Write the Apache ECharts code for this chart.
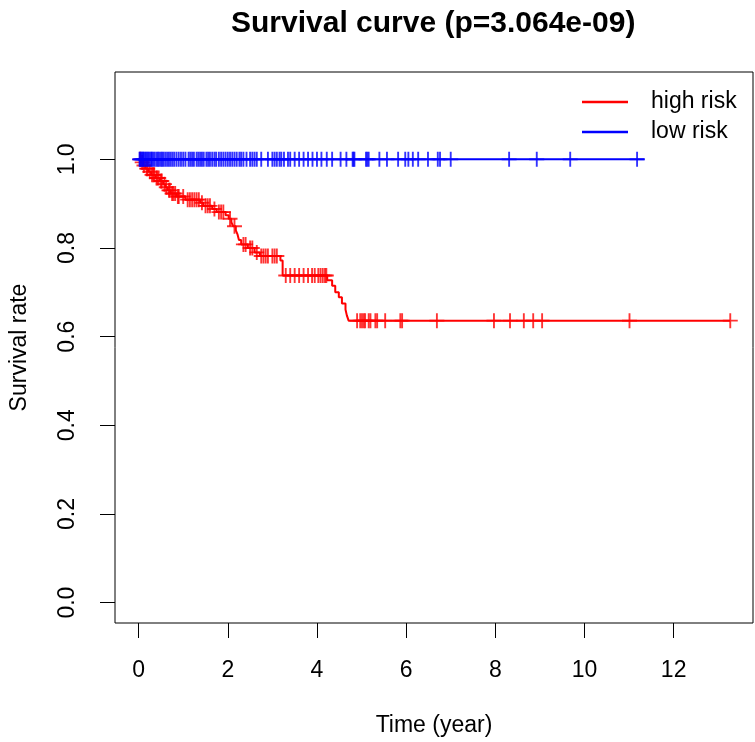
<!DOCTYPE html>
<html>
<head>
<meta charset="utf-8">
<script src="https://cdn.jsdelivr.net/npm/echarts@6/dist/echarts.min.js"></script>
<style>html,body{margin:0;padding:0;background:#fff}#c{width:755px;height:742px}</style>
</head>
<body>
<div id="c"></div>
<script>
// ---- data ----
var titleText = 'Survival curve (p=3.064e-09)';
var xTicks = [0, 2, 4, 6, 8, 10, 12];
var yTicks = [0, 0.2, 0.4, 0.6, 0.8, 1.0];

// high risk: KM step times and survival after each step
var highTimes = [0, 0.05, 0.10, 0.15, 0.22, 0.28, 0.38, 0.48, 0.55, 0.60, 0.65, 0.72, 0.85, 1.05, 1.38, 1.45, 1.65, 1.75, 1.95, 2.02, 2.08, 2.12, 2.18, 2.22, 2.25, 2.30, 2.45, 2.60, 2.72, 3.18, 3.23, 4.23, 4.34, 4.41, 4.49, 4.56, 4.64, 4.67, 4.71, 13.27];
var highSurv  = [1.0, 0.993, 0.986, 0.979, 0.972, 0.965, 0.958, 0.951, 0.944, 0.937, 0.930, 0.923, 0.916, 0.909, 0.902, 0.895, 0.888, 0.881, 0.874, 0.866, 0.858, 0.849, 0.840, 0.830, 0.818, 0.808, 0.800, 0.790, 0.782, 0.772, 0.738, 0.727, 0.715, 0.700, 0.689, 0.675, 0.661, 0.648, 0.636, 0.636];
// high risk censored times
var highCens = [0.03, 0.08, 0.12, 0.18, 0.20, 0.25, 0.30, 0.33, 0.35, 0.40, 0.42, 0.45, 0.50, 0.52, 0.58, 0.62, 0.68, 0.70, 0.75, 0.78, 0.82, 0.88, 0.90, 1.00, 1.10, 1.15, 1.20, 1.25, 1.30, 1.35, 1.42, 1.50, 1.55, 1.60, 1.70, 1.80, 1.85, 1.90, 2.05, 2.15, 2.35, 2.40, 2.50, 2.55, 2.65, 2.75, 2.80, 2.85, 2.90, 3.00, 3.05, 3.10, 3.30, 3.40, 3.50, 3.60, 3.70, 3.80, 3.89, 3.95, 4.03, 4.08, 4.13, 4.18, 4.21, 4.90, 4.97, 5.01, 5.05, 5.08, 5.16, 5.20, 5.31, 5.35, 5.53, 5.87, 5.91, 6.69, 7.97, 8.33, 8.64, 8.85, 9.05, 11.01, 13.27];

// low risk: survival stays at 1
var lowTimes = [0, 11.35];
var lowSurv  = [1.0, 1.0];
var lowCens = [0.02, 0.04, 0.06, 0.08, 0.10, 0.12, 0.15, 0.17, 0.20, 0.22, 0.25, 0.28, 0.30, 0.33, 0.36, 0.40, 0.43, 0.46, 0.50, 0.53, 0.56, 0.60, 0.64, 0.68, 0.72, 0.76, 0.80, 0.85, 0.90, 0.95, 1.00, 1.05, 1.12, 1.16, 1.20, 1.24, 1.30, 1.34, 1.38, 1.42, 1.46, 1.52, 1.56, 1.60, 1.65, 1.70, 1.74, 1.80, 1.85, 1.90, 1.95, 2.00, 2.05, 2.10, 2.15, 2.20, 2.26, 2.30, 2.35, 2.42, 2.50, 2.55, 2.60, 2.65, 2.75, 2.90, 3.00, 3.05, 3.10, 3.16, 3.20, 3.26, 3.35, 3.40, 3.50, 3.60, 3.70, 3.80, 3.90, 4.00, 4.10, 4.22, 4.34, 4.53, 4.66, 4.80, 4.82, 4.84, 5.10, 5.13, 5.16, 5.40, 5.57, 5.82, 5.98, 6.05, 6.15, 6.27, 6.49, 6.71, 6.76, 7.00, 8.31, 8.93, 9.68, 11.18];

// ---- build ----
function stepAt(times, surv, t) {
  var s = surv[0];
  for (var i = 0; i < times.length; i++) { if (times[i] <= t) s = surv[i]; }
  return s;
}
function zip(a, b) { return a.map(function (v, i) { return [v, b[i]]; }); }
var highLine = zip(highTimes, highSurv);
var lowLine = zip(lowTimes, lowSurv);
var highMarks = highCens.map(function (t) { return [t, stepAt(highTimes, highSurv, t)]; });
var lowMarks = lowCens.map(function (t) { return [t, stepAt(lowTimes, lowSurv, t)]; });

var plus = 'path://M7,0H9V7H16V9H9V16H7V9H0V7H7Z';
var FONT = 'Liberation Sans, Arial, sans-serif';

var chart = echarts.init(document.getElementById('c'), null, {renderer: 'canvas'});
chart.setOption({
  animation: false,
  backgroundColor: '#fff',
  title: {
    text: titleText, left: 226, top: 4,
    textStyle: {fontFamily: FONT, fontSize: 30, fontWeight: 'bold', color: '#000'}
  },
  legend: {
    data: ['high risk', 'low risk'], orient: 'vertical', left: 582, top: 90, padding: 0,
    icon: 'rect', itemWidth: 46, itemHeight: 2.5, itemGap: 6,
    textStyle: {fontFamily: FONT, fontSize: 23, color: '#000', lineHeight: 24, padding: [0, 0, 0, 18]},
    selectedMode: false
  },
  grid: {left: 114, right: 2, top: 72, bottom: 119, show: true, borderColor: '#000', borderWidth: 1, backgroundColor: 'transparent'},
  xAxis: {
    type: 'value', min: -0.53, max: 13.78,
    name: 'Time (year)', nameLocation: 'middle', nameGap: 91,
    nameTextStyle: {fontFamily: FONT, fontSize: 23, color: '#000'},
    axisLine: {show: false, onZero: false},
    axisTick: {show: true, inside: false, customValues: xTicks, length: 15, lineStyle: {color: '#000', width: 1}},
    axisLabel: {customValues: xTicks, margin: 36, fontFamily: FONT, fontSize: 23, color: '#000'},
    splitLine: {show: false}
  },
  yAxis: {
    type: 'value', min: -0.046, max: 1.197,
    name: 'Survival rate', nameLocation: 'middle', nameGap: 84,
    nameTextStyle: {fontFamily: FONT, fontSize: 23, color: '#000'},
    axisLine: {show: false, onZero: false},
    axisTick: {show: true, inside: false, customValues: yTicks, length: 15, lineStyle: {color: '#000', width: 1}},
    axisLabel: {customValues: yTicks, margin: 36, rotate: 90, fontFamily: FONT, fontSize: 23, color: '#000',
      formatter: function (v) { return v.toFixed(1); }},
    splitLine: {show: false}
  },
  series: [
    {name: 'high risk', type: 'line', step: 'end', data: highLine, showSymbol: false, symbol: 'none',
      lineStyle: {color: '#ff0000', width: 2}, itemStyle: {color: '#ff0000'}, silent: true, z: 2},
    {name: 'high marks', type: 'scatter', data: highMarks, symbol: plus, symbolSize: 15,
      itemStyle: {color: '#ff0000'}, silent: true, z: 2},
    {name: 'low risk', type: 'line', data: lowLine, showSymbol: false, symbol: 'none',
      lineStyle: {color: '#0000ff', width: 2}, itemStyle: {color: '#0000ff'}, silent: true, z: 3},
    {name: 'low marks', type: 'scatter', data: lowMarks, symbol: plus, symbolSize: 15,
      itemStyle: {color: '#0000ff'}, silent: true, z: 3}
  ]
});
</script>
</body>
</html>
